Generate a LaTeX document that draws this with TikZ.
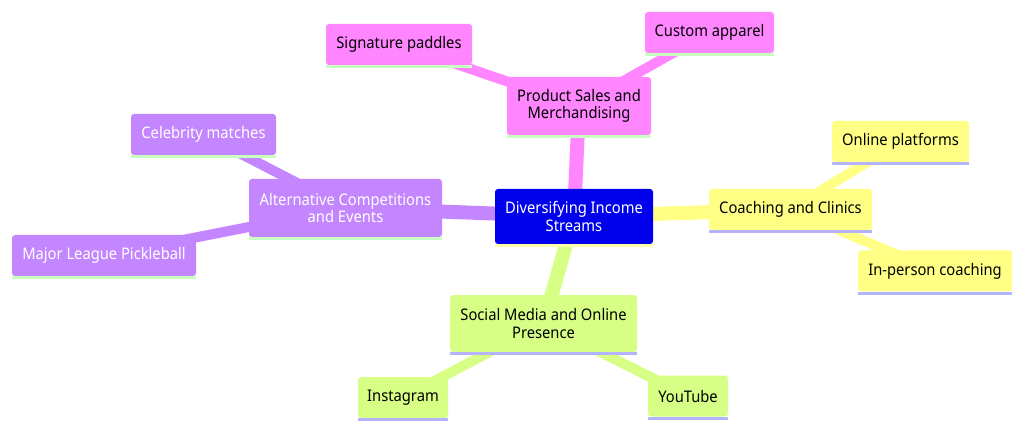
\documentclass[tikz,border=0pt]{standalone}
\usepackage{fontspec}
\setmainfont{Noto Sans}[FakeStretch=0.92]
\definecolor{rootc}{HTML}{0000EC}
\definecolor{pinkc}{HTML}{FF86FF}
\definecolor{purpc}{HTML}{C386FF}
\definecolor{yellc}{HTML}{FFFF86}
\definecolor{grenc}{HTML}{D7FF86}
\definecolor{lgline}{HTML}{C8FFC0}
\definecolor{lavline}{HTML}{B3B3FF}
\definecolor{ylline}{HTML}{FFFFAA}
\begin{document}
\begin{tikzpicture}[x=1pt,y=-1pt,
  mm/.style={rounded corners=3pt, inner sep=0pt, align=center, font=\fontsize{16}{17.5}\selectfont},
  edgeone/.style={line width=14pt},
  edgetwo/.style={line width=10pt},
  bl/.style={line width=3pt}]
\useasboundingbox[fill=white] (0,0) rectangle (1024,427);
\coordinate (rootp) at (574,216.5);
\coordinate (prodp) at (579,106);
\coordinate (sigp) at (399,44.5);
\coordinate (custp) at (709.5,32.5);
\coordinate (altp) at (345.5,208);
\coordinate (celp) at (203.5,134.5);
\coordinate (mlpp) at (104,255.5);
\coordinate (coachp) at (790.5,209.5);
\coordinate (onlp) at (900.5,141.5);
\coordinate (inpp) at (935,271);
\coordinate (socp) at (543.5,323.5);
\coordinate (instp) at (403,397.5);
\coordinate (ytp) at (688,396);
% edges
\draw[edgeone,pinkc] (rootp) -- (prodp);
\draw[edgetwo,pinkc] (prodp) -- (sigp);
\draw[edgetwo,pinkc] (prodp) -- (custp);
\draw[edgeone,purpc] (rootp) -- (altp);
\draw[edgetwo,purpc] (altp) -- (celp);
\draw[edgetwo,purpc] (altp) -- (mlpp);
\draw[edgeone,yellc] (rootp) -- (coachp);
\draw[edgetwo,yellc] (coachp) -- (onlp);
\draw[edgetwo,yellc] (coachp) -- (inpp);
\draw[edgeone,grenc] (rootp) -- (socp);
\draw[edgetwo,grenc] (socp) -- (instp);
\draw[edgetwo,grenc] (socp) -- (ytp);
% nodes
\node[mm, fill=rootc, text=white, minimum width=158pt, minimum height=55pt] (root) at (rootp) {Diversifying Income\\Streams};
\draw[bl,ylline] ([yshift=-1.5pt]root.south west) -- ([yshift=-1.5pt]root.south east);
\node[mm, fill=pinkc, minimum width=144pt, minimum height=58pt] (prod) at (prodp) {Product Sales and\\Merchandising};
\draw[bl,lgline] ([yshift=-1.5pt]prod.south west) -- ([yshift=-1.5pt]prod.south east);
\node[mm, fill=pinkc, minimum width=146pt, minimum height=41pt] (sig) at (sigp) {Signature paddles};
\draw[bl,lgline] ([yshift=-1.5pt]sig.south west) -- ([yshift=-1.5pt]sig.south east);
\node[mm, fill=pinkc, minimum width=129pt, minimum height=41pt] (cust) at (custp) {Custom apparel};
\draw[bl,lgline] ([yshift=-1.5pt]cust.south west) -- ([yshift=-1.5pt]cust.south east);
\node[mm, fill=purpc, text=white, minimum width=193pt, minimum height=58pt] (alt) at (altp) {Alternative Competitions\\and Events};
\draw[bl,lgline] ([yshift=-1.5pt]alt.south west) -- ([yshift=-1.5pt]alt.south east);
\node[mm, fill=purpc, text=white, minimum width=145pt, minimum height=41pt] (cel) at (celp) {Celebrity matches};
\draw[bl,lgline] ([yshift=-1.5pt]cel.south west) -- ([yshift=-1.5pt]cel.south east);
\node[mm, fill=purpc, text=white, minimum width=184pt, minimum height=41pt] (mlp) at (mlpp) {Major League Pickleball};
\draw[bl,lgline] ([yshift=-1.5pt]mlp.south west) -- ([yshift=-1.5pt]mlp.south east);
\node[mm, fill=yellc, minimum width=163pt, minimum height=41pt] (coach) at (coachp) {Coaching and Clinics};
\draw[bl,lavline] ([yshift=-1.5pt]coach.south west) -- ([yshift=-1.5pt]coach.south east);
\node[mm, fill=yellc, minimum width=137pt, minimum height=41pt] (onl) at (onlp) {Online platforms};
\draw[bl,lavline] ([yshift=-1.5pt]onl.south west) -- ([yshift=-1.5pt]onl.south east);
\node[mm, fill=yellc, minimum width=154pt, minimum height=41pt] (inp) at (inpp) {In-person coaching};
\draw[bl,lavline] ([yshift=-1.5pt]inp.south west) -- ([yshift=-1.5pt]inp.south east);
\node[mm, fill=grenc, minimum width=187pt, minimum height=57pt] (soc) at (socp) {Social Media and Online\\Presence};
\draw[bl,lavline] ([yshift=-1.5pt]soc.south west) -- ([yshift=-1.5pt]soc.south east);
\node[mm, fill=grenc, minimum width=90pt, minimum height=41pt] (inst) at (instp) {Instagram};
\draw[bl,lavline] ([yshift=-1.5pt]inst.south west) -- ([yshift=-1.5pt]inst.south east);
\node[mm, fill=grenc, minimum width=80pt, minimum height=41pt] (yt) at (ytp) {YouTube};
\draw[bl,lavline] ([yshift=-1.5pt]yt.south west) -- ([yshift=-1.5pt]yt.south east);
\end{tikzpicture}
\end{document}
